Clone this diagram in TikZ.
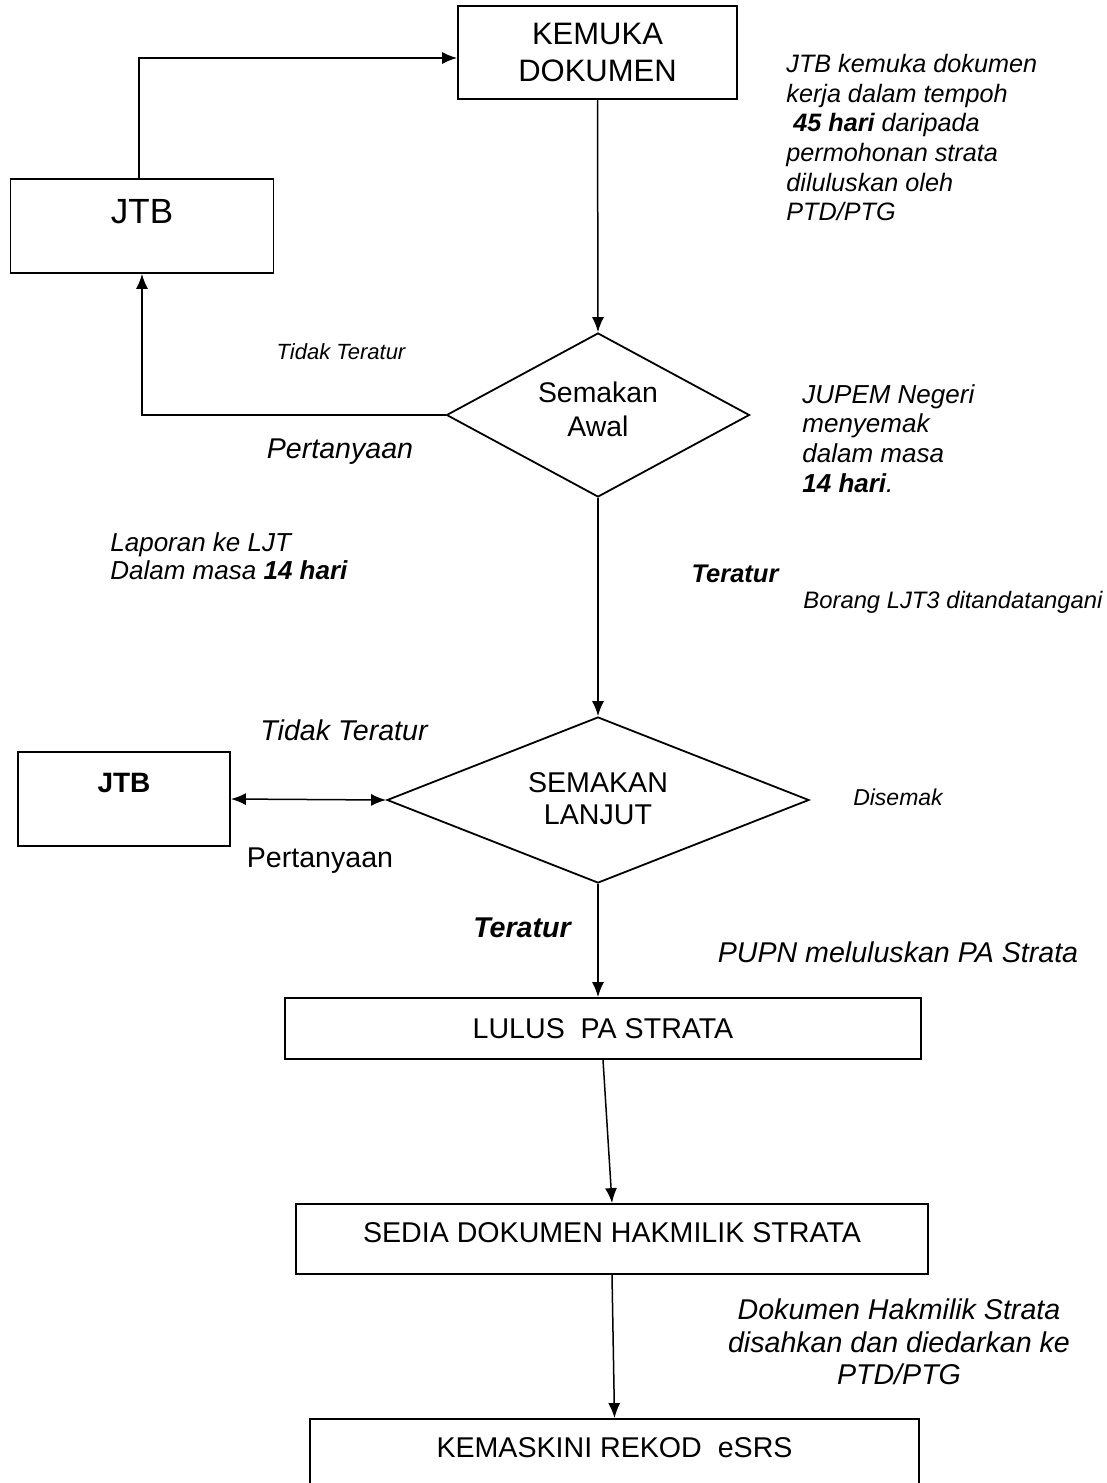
\documentclass[tikz,border=0pt]{standalone}
\usepackage{fontspec}
\setmainfont{Liberation Sans}
\usepackage{tikz}
\usetikzlibrary{positioning,shapes.geometric,arrows.meta}

\begin{document}
\begin{tikzpicture}[x=0.5pt,y=-0.5pt,>={Latex[length=7.5pt,width=6pt]},
  box/.style={draw,line width=0.9pt,inner sep=0pt,align=center,font=\fontsize{14.3pt}{16pt}\selectfont},
  decide/.style={draw,diamond,aspect=2,line width=0.9pt,inner sep=0pt,align=center,font=\fontsize{14.3pt}{16pt}\selectfont},
  note/.style={inner sep=0pt,align=left,font=\itshape\fontsize{13pt}{14.8pt}\selectfont},
  tag/.style={inner sep=0pt,font=\itshape\fontsize{14.3pt}{16pt}\selectfont},
  arrow/.style={->,line width=0.75pt}]
\useasboundingbox (0,0) rectangle (1107,1483);
% boxes and decisions
\node[box,minimum width=139.5pt,minimum height=46.5pt,font=\fontsize{15.5pt}{18.5pt}\selectfont] (kemuka) at (597.5,52.5) {KEMUKA\\DOKUMEN};
\node[box,minimum width=131.5pt,minimum height=47pt,font=\fontsize{17.5pt}{20pt}\selectfont,text height=12.5pt,text depth=15pt] (jtbA) at (142,226) {JTB};
\node[decide,minimum width=151.5pt,minimum height=82pt,font=\fontsize{14.2pt}{17pt}\selectfont,text height=21pt,text depth=0pt] (awal) at (598,415) {Semakan\\Awal};
\node[decide,minimum width=211pt,minimum height=83pt,text height=24pt,text depth=0pt] (lanjut) at (598,800) {SEMAKAN\\LANJUT};
\node[box,minimum width=106pt,minimum height=47pt,font=\bfseries\fontsize{14pt}{16pt}\selectfont,text height=10pt,text depth=17pt] (jtbB) at (124,799) {JTB};
\node[box,minimum width=318pt,minimum height=30.5pt] (lulus) at (603,1028.5) {LULUS~~PA STRATA};
\node[box,minimum width=316pt,minimum height=35pt,text height=10.2pt,text depth=7pt] (sedia) at (612,1239) {SEDIA DOKUMEN HAKMILIK STRATA};
\node[box,minimum width=304.5pt,minimum height=50pt,text height=10.2pt,text depth=22pt] (kemaskini) at (614.5,1469) {KEMASKINI REKOD~~eSRS};
% notes
\node[note,anchor=north west,font=\itshape\fontsize{12.6pt}{14.8pt}\selectfont] (noteKemuka) at (786,54) {JTB kemuka dokumen\\kerja dalam tempoh\\~\textbf{45 hari} daripada\\permohonan strata\\diluluskan oleh\\PTD/PTG};
\node[note,anchor=north west] (noteJupem) at (802,384) {JUPEM Negeri\\menyemak\\dalam masa\\\textbf{14 hari}.};
\node[note,anchor=north west,font=\itshape\fontsize{13pt}{14pt}\selectfont] (noteLaporan) at (110,532) {Laporan ke LJT\\Dalam masa \textbf{14 hari}};
\node[note,align=center,font=\itshape\fontsize{14.3pt}{16.25pt}\selectfont] (noteHakmilik) at (899,1342) {Dokumen Hakmilik Strata\\disahkan dan diedarkan ke\\PTD/PTG};
\node[tag,font=\itshape\fontsize{11pt}{13pt}\selectfont] (tidakA) at (341,352) {Tidak Teratur};
\node[tag] (tanyaA) at (340,452) {Pertanyaan};
\node[tag,font=\bfseries\itshape\fontsize{12.75pt}{15pt}\selectfont] (teraturA) at (735,574) {Teratur};
\node[tag,font=\itshape\fontsize{11.9pt}{14pt}\selectfont] (borang) at (953,602) {Borang LJT3 ditandatangani};
\node[tag] (tidakB) at (344,730) {Tidak Teratur};
\node[tag,font=\fontsize{14.3pt}{16pt}\selectfont] (tanyaB) at (320,861) {Pertanyaan};
\node[tag,font=\itshape\fontsize{11.5pt}{13pt}\selectfont] (disemak) at (898,797) {Disemak};
\node[tag,font=\bfseries\itshape\fontsize{14.3pt}{16pt}\selectfont] (teraturB) at (522,928) {Teratur};
\node[tag] (pupn) at (898,952) {PUPN meluluskan PA Strata};
% connectors
\draw[arrow] ([xshift=-1.5pt]jtbA.north) |- ([yshift=-2.75pt]kemuka.west);
\draw[arrow] (kemuka.south) -- (awal.north);
\draw[arrow] (awal.west) -| (jtbA.south);
\draw[arrow] (awal.south) -- (lanjut.north);
\draw[<->,line width=0.75pt] (jtbB.east) -- (lanjut.west);
\draw[arrow] (lanjut.south) -- (lanjut.south |- lulus.north);
\draw[arrow] (lulus.south) -- (sedia.north);
\draw[arrow] (sedia.south) -- (kemaskini.north);
\end{tikzpicture}
\end{document}
